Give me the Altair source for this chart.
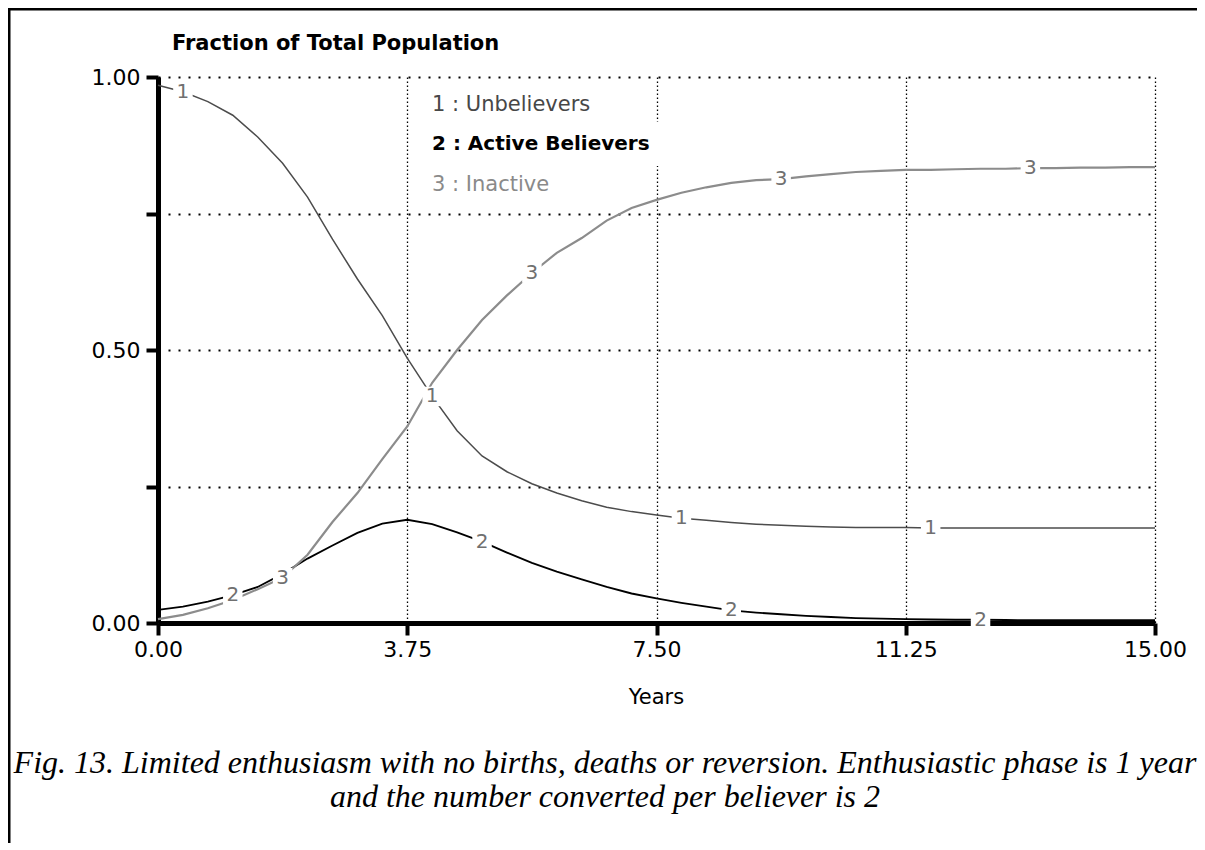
import altair as alt
import pandas as pd

# ---------------- data ----------------
years = [0.0, 0.375, 0.75, 1.125, 1.5, 1.875, 2.25, 2.625, 3.0, 3.375,
         3.75, 4.125, 4.5, 4.875, 5.25, 5.625, 6.0, 6.375, 6.75, 7.125,
         7.5, 7.875, 8.25, 8.625, 9.0, 9.375, 9.75, 10.125, 10.5, 10.875,
         11.25, 11.625, 12.0, 12.375, 12.75, 13.125, 13.5, 13.875, 14.25, 14.625,
         15.0]

unbelievers = [0.985, 0.973, 0.955, 0.930, 0.890, 0.842, 0.780, 0.703, 0.630, 0.563,
               0.485, 0.415, 0.352, 0.306, 0.277, 0.255, 0.238, 0.224, 0.212, 0.204,
               0.198, 0.192, 0.188, 0.184, 0.181, 0.179, 0.177, 0.176, 0.175, 0.175,
               0.175, 0.174, 0.174, 0.174, 0.174, 0.174, 0.174, 0.174, 0.174, 0.174,
               0.174]

active = [0.024, 0.030, 0.039, 0.051, 0.066, 0.090, 0.118, 0.142, 0.165, 0.182,
          0.189, 0.181, 0.166, 0.149, 0.129, 0.110, 0.094, 0.080, 0.066, 0.054,
          0.045, 0.037, 0.030, 0.023, 0.019, 0.016, 0.013, 0.011, 0.009, 0.008,
          0.007, 0.0065, 0.006, 0.006, 0.0055, 0.005, 0.005, 0.005, 0.005, 0.005,
          0.005]

inactive = [0.007, 0.015, 0.027, 0.042, 0.062, 0.083, 0.125, 0.185, 0.238, 0.300,
            0.360, 0.440, 0.500, 0.555, 0.600, 0.641, 0.678, 0.705, 0.737, 0.760,
            0.775, 0.788, 0.798, 0.806, 0.811, 0.813, 0.818, 0.822, 0.826, 0.828,
            0.830, 0.830, 0.831, 0.832, 0.832, 0.833, 0.833, 0.834, 0.834, 0.835,
            0.835]

series_names = ["Unbelievers", "Active Believers", "Inactive"]
series_numbers = ["1", "2", "3"]
legend_labels = ["1 : Unbelievers", "2 : Active Believers", "3 : Inactive"]
x_ticks = [0, 3.75, 7.5, 11.25, 15]
y_ticks = [0, 0.25, 0.5, 0.75, 1.0]
y_title = "Fraction of Total Population"
x_title = "Years"
caption = ["Fig. 13. Limited enthusiasm with no births, deaths or reversion. Enthusiastic phase is 1 year",
           "and the number converted per believer is 2"]

# ---------------- tables ----------------
all_values = [unbelievers, active, inactive]
rows = []
for name, vals in zip(series_names, all_values):
    for t, v in zip(years, vals):
        rows.append({"t": t, "v": v, "series": name})
df = pd.DataFrame(rows)

# number labels sit on every 10th sample, staggered per series (Stella style)
lab_rows = []
for k, (name, num, vals) in enumerate(zip(series_names, series_numbers, all_values)):
    for idx in range(1 + 2 * k, len(years), 10):
        lab_rows.append({"t": years[idx], "v": vals[idx], "num": num})
lab_df = pd.DataFrame(lab_rows)

one = pd.DataFrame({"k": [0]})

# ---------------- scales / axes ----------------
FONT = "DejaVu Sans"
x_scale = alt.Scale(domain=[0, 15], nice=False, zero=False)
y_scale = alt.Scale(domain=[0, 1], nice=False, zero=False)

x_axis = alt.Axis(values=x_ticks, format=".2f", title=None,
                  grid=True, gridColor="black", gridDash=[1.5, 2.5], gridWidth=1.3,
                  domainColor="black", domainWidth=5,
                  tickColor="black", tickWidth=4, tickSize=12,
                  labelFont=FONT, labelFontSize=22, labelColor="black",
                  labelPadding=4, labelFlush=False, labelOverlap=False)
y_axis = alt.Axis(values=y_ticks, format=".2f", title=None,
                  labelExpr="(datum.value == 0.25 || datum.value == 0.75) ? '' : datum.label",
                  grid=True, gridColor="black", gridDash=[2, 8], gridWidth=2,
                  domainColor="black", domainWidth=5,
                  tickColor="black", tickWidth=4, tickSize=12,
                  labelFont=FONT, labelFontSize=22, labelColor="black",
                  labelPadding=6, labelFlush=False, labelOverlap=False)

X = alt.X("t:Q", scale=x_scale, axis=x_axis)
Y = alt.Y("v:Q", scale=y_scale, axis=y_axis)

lines = alt.Chart(df).mark_line(strokeCap="butt").encode(
    x=X, y=Y,
    color=alt.Color("series:N", scale=alt.Scale(domain=series_names,
                    range=["#4c4c4c", "#000000", "#8c8c8c"]), legend=None),
    strokeWidth=alt.StrokeWidth("series:N", scale=alt.Scale(domain=series_names,
                    range=[1.5, 2.2, 1.5]), legend=None),
)

lab_bg = alt.Chart(lab_df).mark_point(shape="square", filled=True, color="white",
                                      opacity=1, size=380, strokeWidth=0).encode(x=X, y=Y)
lab_txt = alt.Chart(lab_df).mark_text(font=FONT, fontSize=20, color="#707070",
                                      align="center", baseline="middle").encode(
    x=X, y=Y, text="num:N")

# legend box behind line 2 (hides the 7.50 grid line), then legend text
legend_bg = alt.Chart(one).mark_rect(color="white").encode(
    x=alt.value(270), x2=alt.value(502), y=alt.value(45), y2=alt.value(89))
leg_colors = ["#474747", "#000000", "#8a8a8a"]
leg_weights = ["normal", "bold", "normal"]
leg_sizes = [21, 20, 21]
leg_y = [28, 67, 108]
legend_layers = [
    alt.Chart(one).mark_text(font=FONT, fontSize=s, align="left", baseline="middle",
                             color=c, fontWeight=w, text=txt).encode(
        x=alt.value(274), y=alt.value(yy))
    for txt, c, w, s, yy in zip(legend_labels, leg_colors, leg_weights, leg_sizes, leg_y)
]

title_txt = alt.Chart(one).mark_text(font=FONT, fontSize=21, fontWeight="bold",
                                     align="left", baseline="middle", color="black",
                                     text=y_title).encode(x=alt.value(14), y=alt.value(-33))
xtitle_txt = alt.Chart(one).mark_text(font=FONT, fontSize=21, align="center",
                                      baseline="middle", color="black",
                                      text=x_title).encode(x=alt.value(498.5), y=alt.value(621))
cap_layers = [
    alt.Chart(one).mark_text(font="Liberation Serif", fontStyle="italic", fontSize=32,
                             align="center", baseline="middle", color="black",
                             text=line).encode(x=alt.value(447), y=alt.value(yy))
    for line, yy in zip(caption, [686, 720])
]

# frame (top and left border)
frame_top = alt.Chart(one).mark_rule(color="black", strokeWidth=3).encode(
    x=alt.value(-158), x2=alt.value(1047), y=alt.value(-68))
frame_left = alt.Chart(one).mark_rule(color="black", strokeWidth=3).encode(
    x=alt.value(-149), y=alt.value(-70), y2=alt.value(775))

chart = alt.layer(
    lines, lab_bg, lab_txt, legend_bg, *legend_layers, title_txt, xtitle_txt,
    *cap_layers, frame_top, frame_left
).properties(
    width=997, height=546,
    padding={"left": 150, "top": 69, "right": 42, "bottom": 220},
    autosize=alt.AutoSizeParams(type="none"),
    background="white",
).configure_view(stroke=None)

chart.save("out.html", embed_options={"renderer": "svg", "actions": False})
